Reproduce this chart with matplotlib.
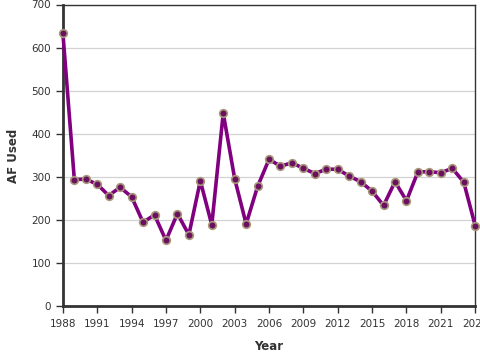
import matplotlib
matplotlib.use("Agg")
import matplotlib.pyplot as plt

years = list(range(1988, 2025))
af_used = [634, 294, 295, 283, 257, 276, 254, 195, 212, 153, 215, 166, 291, 189,
           448, 296, 191, 278, 341, 325, 333, 320, 308, 318, 318, 302, 289, 267,
           234, 289, 245, 312, 312, 310, 320, 288, 187]
xticks = list(range(1988, 2025, 3))
yticks = list(range(0, 701, 100))

fig = plt.figure(figsize=(4.8, 3.6), dpi=100)
ax = fig.add_axes([0.131, 0.149, 0.859, 0.8385])

ax.plot(years, af_used, color="#800080", linewidth=2.6, zorder=3, clip_on=False,
        marker="o", markersize=5.5, markerfacecolor="#6b1060",
        markeredgecolor="#a8987a", markeredgewidth=1.2)

ax.set_xlim(1988, 2024)
ax.set_ylim(0, 700)
ax.set_xticks(xticks)
ax.set_yticks(yticks)
ax.yaxis.grid(True, color="#d3d3d3", linewidth=0.9)
ax.set_axisbelow(True)

for s in ["left", "bottom"]:
    ax.spines[s].set_linewidth(2.0)
    ax.spines[s].set_color("#333333")
for s in ["top", "right"]:
    ax.spines[s].set_linewidth(1.0)
    ax.spines[s].set_color("#333333")

ax.tick_params(axis="both", labelsize=7.5, colors="#333333", length=5, width=1)
ax.tick_params(axis="x", pad=4)

ax.set_xlabel("Year", fontsize=8.5, fontweight="bold", color="#333333", labelpad=8)
ax.set_ylabel("AF Used", fontsize=8.5, fontweight="bold", color="#333333", labelpad=8)

fig.savefig("out.png", dpi=100)
